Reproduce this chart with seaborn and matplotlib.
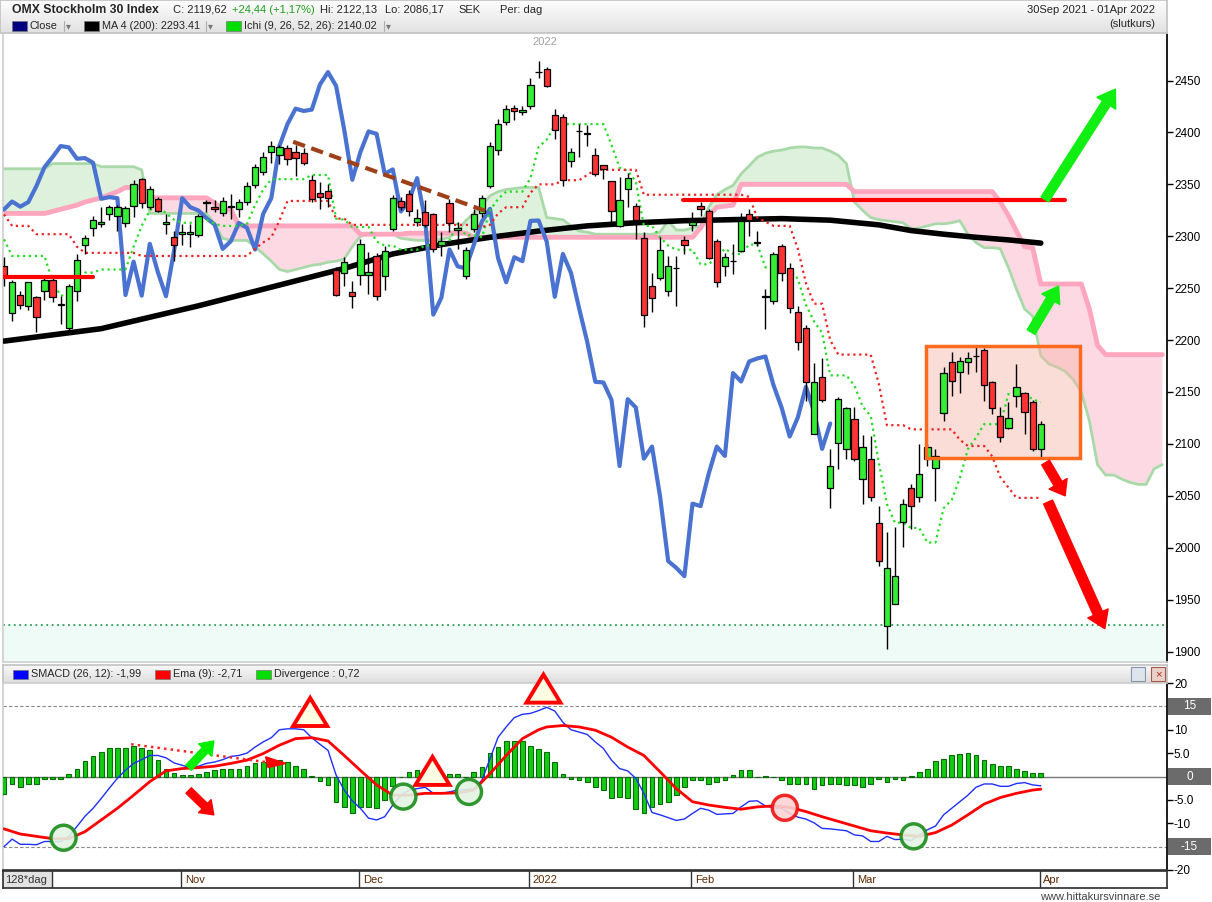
import numpy as np
import pandas as pd
import matplotlib
matplotlib.use("Agg")
import matplotlib.pyplot as plt
import seaborn as sns
from matplotlib.colors import LinearSegmentedColormap
from matplotlib.lines import Line2D
from matplotlib.patches import Rectangle, Ellipse, Polygon, FancyArrowPatch

# ---- OMXS30 daily candles, 30 Sep 2021 .. 01 Apr 2022 ----
opens = [2271.8, 2225.7, 2243.4, 2232.5, 2241.2, 2247.0, 2258.2, 2234.5, 2211.3, 2247.6,
         2291.7, 2307.8, 2311.6, 2321.6, 2320.0, 2312.9, 2329.0, 2354.7, 2328.0, 2336.1,
         2312.0, 2299.1, 2302.0, 2302.0, 2301.7, 2332.2, 2328.0, 2322.3, 2328.7, 2326.4,
         2332.9, 2349.6, 2361.8, 2381.1, 2377.9, 2385.0, 2381.1, 2380.1, 2353.8, 2341.9,
         2343.8, 2267.9, 2264.7, 2246.7, 2262.7, 2262.7, 2280.8, 2261.4, 2307.1, 2333.5,
         2340.9, 2313.6, 2323.2, 2321.3, 2291.7, 2332.2, 2305.8, 2261.4, 2307.1, 2322.6,
         2348.3, 2383.4, 2410.1, 2423.6, 2419.7, 2425.2, 2458.3, 2461.6, 2417.1, 2414.9,
         2372.4, 2401.1, 2398.9, 2377.9, 2368.3, 2352.8, 2309.7, 2345.1, 2329.6, 2298.1,
         2251.8, 2260.2, 2247.0, 2269.2, 2296.8, 2311.0, 2329.0, 2323.9, 2295.9, 2271.1,
         2276.2, 2286.2, 2321.6, 2293.3, 2241.9, 2237.9, 2291.0, 2269.2, 2226.7, 2211.3,
         2110.0, 2164.0, 2057.8, 2101.3, 2095.5, 2123.8, 2066.5, 2085.8, 2024.1, 1925.0,
         1946.2, 2024.7, 2057.8, 2048.8, 2085.2, 2077.1, 2129.6, 2178.5, 2168.8, 2178.5,
         2184.3, 2190.7, 2159.2, 2126.4, 2115.7, 2145.7, 2148.6, 2140.8, 2095.2]
highs = [2279.8, 2257.9, 2247.6, 2256.3, 2242.8, 2262.1, 2262.1, 2242.8, 2254.1, 2283.0,
         2301.3, 2320.0, 2328.0, 2330.3, 2330.0, 2329.6, 2353.8, 2356.0, 2348.3, 2337.7,
         2321.6, 2304.6, 2312.0, 2312.0, 2321.6, 2334.5, 2334.5, 2337.7, 2340.9, 2336.1,
         2352.2, 2369.9, 2381.1, 2391.4, 2388.2, 2388.2, 2387.6, 2385.0, 2358.6, 2352.2,
         2350.6, 2270.1, 2279.8, 2257.3, 2297.5, 2285.3, 2284.0, 2291.1, 2340.0, 2338.0,
         2344.1, 2326.4, 2334.5, 2322.6, 2303.9, 2336.1, 2313.6, 2289.4, 2326.4, 2339.3,
         2390.8, 2413.3, 2426.2, 2426.8, 2425.5, 2452.5, 2468.6, 2463.2, 2422.9, 2418.1,
         2385.0, 2408.5, 2407.5, 2385.0, 2368.9, 2353.0, 2357.0, 2361.2, 2332.2, 2303.9,
         2264.7, 2299.1, 2281.4, 2281.4, 2300.7, 2323.2, 2332.9, 2325.8, 2297.5, 2283.9,
         2292.7, 2322.6, 2326.4, 2305.5, 2249.2, 2284.6, 2292.7, 2274.3, 2233.2, 2214.5,
         2177.5, 2182.3, 2095.5, 2144.7, 2136.0, 2136.0, 2108.3, 2107.7, 2040.1, 2015.0,
         2020.2, 2046.6, 2061.1, 2099.6, 2099.6, 2095.5, 2173.6, 2188.8, 2183.3, 2188.8,
         2193.0, 2192.0, 2160.8, 2136.0, 2139.9, 2176.9, 2150.2, 2142.4, 2122.1]
lows = [2252.4, 2218.7, 2229.9, 2229.3, 2207.4, 2238.9, 2236.4, 2215.4, 2205.8, 2238.0,
        2283.0, 2300.7, 2308.7, 2315.2, 2305.5, 2308.7, 2318.4, 2327.1, 2326.4, 2323.2,
        2302.3, 2276.6, 2291.7, 2289.4, 2299.1, 2323.2, 2323.2, 2320.0, 2316.8, 2318.4,
        2329.7, 2346.4, 2359.3, 2370.8, 2369.9, 2368.3, 2358.0, 2368.9, 2332.9, 2326.4,
        2328.0, 2242.8, 2252.4, 2230.6, 2253.1, 2244.4, 2238.9, 2248.6, 2304.6, 2325.0,
        2320.0, 2309.7, 2308.7, 2284.6, 2281.4, 2303.9, 2287.8, 2258.9, 2303.9, 2318.4,
        2346.4, 2377.9, 2407.5, 2412.3, 2416.5, 2422.9, 2452.5, 2444.0, 2394.0, 2348.3,
        2366.6, 2376.3, 2386.9, 2357.9, 2354.7, 2313.6, 2308.7, 2328.0, 2297.5, 2212.2,
        2226.7, 2258.2, 2242.8, 2233.1, 2283.0, 2305.5, 2320.0, 2278.2, 2251.5, 2262.1,
        2263.7, 2285.3, 2300.7, 2291.0, 2210.6, 2234.8, 2257.3, 2226.1, 2190.7, 2141.5,
        2109.3, 2140.5, 2038.5, 2075.5, 2085.2, 2083.6, 2041.7, 2044.9, 1982.2, 1902.4,
        1946.0, 2000.9, 2018.3, 2044.0, 2078.8, 2044.9, 2122.2, 2145.7, 2149.5, 2167.2,
        2169.4, 2141.5, 2128.6, 2101.9, 2114.1, 2136.0, 2109.3, 2093.2, 2086.2]
closes = [2260.5, 2256.3, 2234.1, 2255.7, 2221.9, 2258.2, 2241.2, 2233.5, 2251.8, 2277.5,
          2298.1, 2316.1, 2313.6, 2328.0, 2328.0, 2327.1, 2349.9, 2332.2, 2345.1, 2324.8,
          2314.2, 2292.0, 2303.9, 2303.9, 2319.4, 2332.6, 2325.8, 2333.5, 2328.5, 2332.9,
          2348.3, 2366.6, 2376.3, 2386.9, 2385.6, 2374.7, 2375.3, 2370.8, 2336.1, 2337.7,
          2336.7, 2243.4, 2275.6, 2242.8, 2292.7, 2265.3, 2242.2, 2286.2, 2336.7, 2328.0,
          2324.8, 2317.4, 2311.3, 2287.8, 2295.2, 2312.9, 2308.1, 2287.2, 2321.6, 2336.7,
          2386.9, 2408.1, 2422.9, 2420.7, 2422.0, 2446.1, 2458.1, 2444.8, 2402.7, 2354.4,
          2381.1, 2401.0, 2398.6, 2360.2, 2364.4, 2323.9, 2334.5, 2356.0, 2315.2, 2224.5,
          2240.9, 2287.2, 2271.1, 2269.0, 2291.7, 2314.2, 2326.4, 2278.8, 2255.7, 2279.8,
          2276.0, 2314.8, 2315.2, 2294.9, 2241.7, 2283.0, 2264.7, 2230.6, 2198.4, 2159.8,
          2159.2, 2142.4, 2078.7, 2143.1, 2135.0, 2085.8, 2097.4, 2049.1, 1987.1, 1980.6,
          1972.6, 2042.4, 2040.1, 2071.3, 2097.4, 2088.4, 2168.2, 2160.1, 2179.4, 2182.3,
          2184.2, 2156.6, 2135.0, 2107.1, 2125.4, 2155.0, 2131.2, 2095.2, 2119.6]

month_labels = ["Nov", "Dec", "2022", "Feb", "Mar", "Apr"]
month_first = [22, 44, 65, 85, 105, 128]

# MA 4 (200)
ma_days = [0, 6, 12, 18, 24, 30, 36, 42, 48, 54, 60, 66, 72, 78, 84, 90, 96, 102, 108, 112, 116, 120, 124, 128]
ma_vals = [2199, 2205, 2211, 2222, 2233, 2245, 2257, 2269, 2283, 2292, 2299, 2305, 2310, 2313,
           2315, 2316, 2317, 2315.5, 2311, 2305.5, 2302, 2299, 2296.5, 2293.4]

# Ichimoku (9, 26, 52, 26)
tenkan = [2297, 2281, 2281, 2281, 2281, 2281, 2256, 2243, 2243, 2252,
          2265, 2265, 2268, 2268, 2268, 2268, 2290, 2310, 2325, 2330,
          2322, 2316, 2313, 2313, 2313, 2316, 2312, 2310, 2310, 2310,
          2312, 2330, 2345, 2355, 2355, 2355, 2355, 2355, 2359, 2359,
          2359, 2317, 2316, 2309, 2309, 2309, 2295, 2291, 2291, 2287,
          2287, 2287, 2291, 2291, 2291, 2296, 2312, 2301, 2301, 2299,
          2325, 2336, 2343, 2343, 2343, 2356, 2386, 2393, 2407, 2408,
          2408, 2408, 2408, 2408, 2408, 2388, 2366, 2363, 2353, 2310,
          2310, 2299, 2291, 2287, 2287, 2287, 2273, 2273, 2280, 2288,
          2283, 2283, 2292, 2292, 2270, 2270, 2270, 2268, 2259, 2234,
          2218, 2207, 2166, 2166, 2166, 2156, 2136, 2127, 2082, 2042,
          2024, 2024, 2019, 2019, 2005, 2005, 2038, 2046, 2067, 2095,
          2106, 2119, 2119, 2119, 2148, 2148, 2148, 2143, 2140]
kijun = [2321, 2310, 2310, 2310, 2302, 2302, 2302, 2302, 2302, 2290,
         2284, 2284, 2284, 2284, 2284, 2284, 2284, 2281, 2281, 2281,
         2281, 2281, 2281, 2281, 2281, 2281, 2281, 2281, 2281, 2281,
         2281, 2288, 2294, 2299, 2315, 2334, 2334, 2334, 2334, 2334,
         2334, 2317, 2317, 2311, 2311, 2311, 2311, 2311, 2311, 2311,
         2311, 2311, 2311, 2311, 2311, 2311, 2311, 2311, 2311, 2309,
         2311, 2322, 2328, 2328, 2328, 2342, 2350, 2350, 2350, 2354,
         2354, 2354, 2359, 2364, 2364, 2364, 2364, 2364, 2364, 2340,
         2340, 2340, 2340, 2340, 2340, 2340, 2340, 2340, 2340, 2340,
         2340, 2340, 2338, 2318, 2314, 2310, 2310, 2310, 2288, 2255,
         2235, 2235, 2200, 2186, 2186, 2186, 2186, 2186, 2158, 2118,
         2118, 2118, 2114, 2114, 2114, 2114, 2114, 2114, 2104, 2098,
         2098, 2098, 2088, 2068, 2058, 2048, 2048, 2048, 2048]
span_a = [2365, 2365, 2365, 2365, 2365, 2365, 2370, 2370, 2370, 2370,
          2370, 2370, 2367, 2367, 2367, 2367, 2367, 2364, 2322, 2322,
          2322, 2322, 2322, 2322, 2322, 2322, 2312, 2298, 2296, 2296,
          2296, 2290, 2283, 2276, 2268, 2266, 2268, 2270, 2272, 2273,
          2275, 2276, 2278, 2290, 2300, 2302, 2302, 2302, 2302, 2298,
          2297, 2296, 2296, 2296, 2297, 2299, 2305, 2315, 2322, 2330,
          2339, 2343, 2345, 2346, 2347, 2347, 2347, 2318, 2317, 2316,
          2310, 2305, 2304, 2302, 2302, 2302, 2302, 2302, 2302, 2302,
          2302, 2304, 2315, 2306, 2306, 2308, 2310, 2328, 2340, 2345,
          2349, 2360, 2368, 2376, 2380, 2382, 2383, 2385, 2386, 2386,
          2385, 2385, 2382, 2378, 2370, 2333, 2325, 2318, 2316, 2315,
          2314, 2313, 2307, 2308, 2310, 2312, 2312, 2313, 2315, 2302,
          2294, 2289, 2289, 2288, 2270, 2249, 2230, 2223, 2185, 2177,
          2174, 2170, 2162, 2150, 2122, 2080, 2070, 2070, 2066, 2063,
          2061, 2061, 2076, 2080]
span_b = [2322, 2322, 2322, 2322, 2322, 2322, 2324, 2326, 2328, 2330,
          2333, 2335, 2337, 2340, 2343, 2347, 2347, 2347, 2337, 2337,
          2337, 2337, 2337, 2337, 2337, 2337, 2332, 2326, 2326, 2310,
          2310, 2310, 2310, 2310, 2310, 2310, 2310, 2310, 2310, 2310,
          2310, 2310, 2310, 2310, 2302, 2302, 2302, 2302, 2302, 2302,
          2303, 2303, 2303, 2303, 2303, 2303, 2303, 2303, 2299, 2299,
          2299, 2299, 2299, 2299, 2299, 2299, 2299, 2299, 2299, 2299,
          2299, 2299, 2299, 2299, 2299, 2299, 2299, 2299, 2299, 2299,
          2299, 2299, 2299, 2299, 2299, 2299, 2308, 2320, 2328, 2329,
          2330, 2350, 2350, 2350, 2350, 2350, 2350, 2350, 2350, 2350,
          2350, 2350, 2350, 2350, 2350, 2343, 2343, 2343, 2343, 2343,
          2343, 2343, 2343, 2343, 2343, 2343, 2343, 2343, 2343, 2343,
          2343, 2343, 2343, 2333, 2320, 2305, 2290, 2289, 2254, 2254,
          2254, 2254, 2254, 2254, 2230, 2195, 2186, 2186, 2186, 2186,
          2186, 2186, 2186, 2186]

# SMACD (26, 12), Ema (9), Divergence
smacd = [-15.0, -13.4, -14.5, -14.5, -14.6, -13.9, -13.9, -13.9, -12.8, -10.7,
         -8.5, -6.8, -4.7, -2.5, -0.4, 1.35, 2.8, 3.6, 4.5, 4.5,
         4.0, 2.9, 2.4, 1.9, 2.2, 2.8, 3.1, 3.6, 4.3, 4.5,
         5.0, 6.3, 7.4, 8.3, 10.0, 10.2, 10.2, 10.0, 8.3, 6.9,
         5.6, 0.3, -2.9, -5.2, -6.8, -8.9, -9.3, -8.6, -6.1, -4.0,
         -2.9, -2.6, -2.3, -3.6, -3.6, -3.3, -2.9, -2.8, -2.6, -0.8,
         3.8, 8.4, 10.6, 12.6, 13.3, 13.5, 14.1, 14.8, 14.0, 11.6,
         10.0, 9.5, 9.0, 7.4, 6.0, 3.5, 1.7, 1.2, -0.4, -3.6,
         -7.7, -8.2, -8.8, -9.4, -9.1, -7.9, -6.8, -7.2, -8.1, -8.0,
         -7.9, -6.5, -5.3, -5.2, -6.3, -6.7, -6.8, -7.9, -8.7, -9.1,
         -9.9, -11.1, -11.2, -11.4, -11.6, -12.5, -12.7, -13.9, -13.9, -12.8,
         -13.5, -13.4, -13.7, -12.5, -11.4, -10.6, -8.2, -6.8, -5.4, -4.0,
         -2.3, -1.6, -1.6, -2.1, -2.1, -1.5, -1.3, -1.8, -1.99]
ema_days = [0, 2, 4, 6, 8, 10, 12, 14, 16, 18, 20, 22, 24, 26, 28, 30, 32, 34, 36, 38,
            40, 42, 44, 46, 48, 50, 52, 54, 56, 58, 60, 62, 64, 66, 67, 69, 71, 73, 75, 77,
            79, 81, 83, 85, 87, 89, 91, 93, 95, 97, 99, 101, 103, 105, 107, 109, 111, 113,
            115, 117, 119, 121, 123, 125, 127, 128]
ema_vals = [-11.2, -12.3, -12.8, -13.3, -13.3, -11.8, -9.3, -6.8, -4.0, -1.1, 1.2, 1.7, 1.9,
            2.2, 2.8, 3.5, 4.9, 6.7, 8.1, 8.3, 7.6, 4.5, 1.3, -1.8, -4.0, -4.0, -3.6, -3.6,
            -3.5, -2.9, 0.6, 4.5, 8.1, 10.0, 10.6, 10.9, 10.6, 9.9, 8.4, 6.3, 4.5, 1.0, -2.6,
            -5.4, -6.1, -6.6, -7.0, -6.5, -6.3, -6.6, -7.5, -8.6, -9.6, -10.6, -11.6, -12.1,
            -12.5, -12.8, -12.0, -10.4, -8.2, -5.9, -4.5, -3.6, -2.9, -2.71]
divergence = [-3.8, -1.6, -2.3, -1.6, -1.5, -0.6, -0.5, -0.5, 0.5, 1.7,
              3.3, 4.3, 5.2, 6.0, 6.2, 6.2, 6.6, 6.0, 5.7, 3.5,
              1.7, 0.8, 0.3, 0.35, 0.6, 1.0, 1.35, 1.5, 1.5, 1.5,
              2.2, 2.8, 3.1, 3.3, 3.5, 3.0, 2.3, 1.7, 0.05, -1.0,
              -1.8, -5.5, -6.5, -7.9, -6.5, -6.5, -6.8, -5.0, -2.1, -0.2,
              0.9, 1.35, 0.2, 0.1, 0.4, 0.6, 0.6, 0.0, 0.9, 2.1,
              5.0, 6.3, 7.5, 7.7, 7.5, 6.5, 5.8, 5.2, 3.1, 0.6,
              -0.6, -0.8, -1.1, -2.2, -2.8, -4.7, -4.3, -4.7, -7.0, -7.9,
              -6.6, -5.9, -5.4, -4.0, -2.3, -0.8, -0.8, -1.5, -1.1, -0.8,
              0.3, 1.35, 1.35, 0.0, 0.1, 0.0, -0.8, -1.6, -1.6, -1.6,
              -2.6, -1.8, -1.6, -1.5, -1.8, -1.8, -2.3, -1.6, -0.6, -1.1,
              -0.6, -0.8, 0.2, 1.0, 1.7, 3.3, 3.8, 4.5, 4.8, 5.0,
              4.5, 3.6, 2.6, 2.2, 2.2, 1.7, 1.1, 0.85, 0.72]

# ---------------------------------------------------------------------------
sns.set_theme(style="white")
plt.rcParams["font.family"] = ["Liberation Sans", "DejaVu Sans"]
FS = 8
LFS = 7.8   # legend rows

W, H = 1212, 902
fig = plt.figure(figsize=(W / 100, H / 100), dpi=100)
fig.patch.set_facecolor("white")


def px_axes(x0, y0, x1, y1):
    # axes from a pixel box, origin top-left
    return fig.add_axes([x0 / W, 1 - y1 / H, (x1 - x0) / W, (y1 - y0) / H])


def fx(x):
    return x / W


def fy(y):
    return 1 - y / H


def gradient_bar(box, top, bottom):
    a = px_axes(*box)
    cmap = LinearSegmentedColormap.from_list("bar", [top, bottom])
    a.imshow(np.arange(20).reshape(-1, 1), cmap=cmap, aspect="auto", extent=[0, 1, 0, 1])
    a.set_xticks([])
    a.set_yticks([])
    for s in a.spines.values():
        s.set_color("#c4c4c4")
    return a


def legend_item(x, y, color, label, drop_x=None):
    fig.add_artist(Rectangle((fx(x), fy(y + 4.5)), 15 / W, 9 / H, transform=fig.transFigure,
                             facecolor=color, edgecolor="#777777", lw=0.5))
    fig.text(fx(x + 18), fy(y), label, fontsize=LFS, va="center")
    if drop_x is not None:
        fig.add_artist(Line2D([fx(drop_x), fx(drop_x)], [fy(y - 5), fy(y + 5)],
                              transform=fig.transFigure, color="#b0b0b0", lw=0.8))
        fig.text(fx(drop_x + 2), fy(y), "▾", fontsize=7, va="center", color="#777777")


x_lo, x_hi = -1 / 8.1, 1163 / 8.1
days = np.arange(len(closes))

# ---------------- main price panel ----------------
ax = px_axes(3, 33, 1167, 662)
y_lo, y_hi = 1889.9, 2495.8

sa = np.array(span_a, dtype=float)
sb = np.array(span_b, dtype=float)
cx = np.arange(len(sa))
ax.fill_between(cx, sa, sb, where=sa >= sb, interpolate=True, color="#ddf1dd", lw=0, zorder=1)
ax.fill_between(cx, sa, sb, where=sa < sb, interpolate=True, color="#fdd9e4", lw=0, zorder=1)
sns.lineplot(x=cx, y=sa, ax=ax, color="#a9d9a9", linewidth=2, errorbar=None, zorder=2)
sns.lineplot(x=cx, y=sb, ax=ax, color="#ffa6bf", linewidth=3.5, errorbar=None, zorder=2)

ax.axhspan(y_lo, 1925.5, color="#effbf6", zorder=0)
ax.axhline(1925.5, color="#2f9e55", lw=1.3, ls=(0, (1, 2)), zorder=2)

sns.lineplot(x=ma_days, y=ma_vals, ax=ax, color="black", linewidth=4, errorbar=None, zorder=3)
sns.lineplot(x=days[:-26], y=np.array(closes)[26:], ax=ax, color="#4a72d0",
             linewidth=3, errorbar=None, zorder=4)
sns.lineplot(x=days, y=tenkan, ax=ax, color="#22dd22", linewidth=1.6, linestyle=":",
             errorbar=None, zorder=4)
sns.lineplot(x=days, y=kijun, ax=ax, color="#ee2222", linewidth=1.6, linestyle=":",
             errorbar=None, zorder=4)

# analyst marks
ax.add_patch(Rectangle((113.8, 2086), 19, 108, facecolor="#f8b4a8", alpha=0.45,
                       edgecolor="none", zorder=3))
ax.add_patch(Rectangle((113.8, 2086), 19, 108, facecolor="none", edgecolor="#ff6a1f",
                       lw=2.5, zorder=9))
ax.plot([-0.2, 11], [2261, 2261], color="#ff0000", lw=3, zorder=8)
ax.plot([83.8, 131], [2335, 2335], color="#ff0000", lw=3, zorder=8)
ax.plot([35.7, 59.4], [2391, 2324.5], color="#a0401a", lw=3, ls=(0, (3, 1.6)), zorder=8)


def arrow(a, p0, p1, color, tw, hw, hl):
    a.add_patch(FancyArrowPatch(p0, p1, arrowstyle=f"simple,head_length={hl},head_width={hw},tail_width={tw}",
                                mutation_scale=1, color=color, shrinkA=0, shrinkB=0, zorder=10, clip_on=False))


arrow(ax, (128.5, 2335.5), (137.2, 2441.7), "#11ee11", 6.5, 16, 12)
arrow(ax, (126.8, 2207.7), (130.2, 2252), "#11ee11", 6.5, 15, 11)
arrow(ax, (128.6, 2082), (131.0, 2050), "#ff0000", 6.5, 15, 10)
arrow(ax, (128.9, 2044), (135.9, 1922), "#ff0000", 7, 16, 12)

# candles
df = pd.DataFrame({"open": opens, "high": highs, "low": lows, "close": closes})
df["day"] = days
up = df["close"] >= df["open"]
body_lo = df[["open", "close"]].min(axis=1)
body_h = (df["close"] - df["open"]).abs().clip(lower=0.6)
ax.vlines(df["day"], df["low"], df["high"], color="black", lw=1, zorder=6)
ax.bar(df["day"], body_h, bottom=body_lo, width=0.78,
       color=np.where(up, "#33ee33", "#ff3333"), edgecolor="black", linewidth=0.9, zorder=7)

ax.text(66.8, 2487, "2022", ha="center", va="center", fontsize=FS, color="#a0a0a0")

ax.set_xlim(x_lo, x_hi)
ax.set_ylim(y_lo, y_hi)
ax.set_xlabel("")
ax.set_ylabel("")
ax.set_xticks([])
ax.set_yticks(list(range(1900, 2451, 50)))
ax.yaxis.tick_right()
ax.tick_params(axis="y", right=True, left=False, labelright=True, labelleft=False,
               direction="out", length=4, width=1, pad=1, labelsize=8.5, colors="black")
for s in ["left", "bottom", "top"]:
    ax.spines[s].set_color("#cfcfcf")
ax.spines["top"].set_visible(False)
ax.spines["right"].set_color("black")

# ---------------- header ----------------
gradient_bar((0, 0, 1167, 33), "#fdfdfd", "#e2e2e2")
fig.text(fx(12), fy(10), "OMX Stockholm 30 Index", fontsize=8.8, fontweight="bold", va="center")
fig.text(fx(173), fy(10), "C: 2119,62", fontsize=FS, va="center")
fig.text(fx(232), fy(10), "+24,44 (+1,17%)", fontsize=FS, va="center", color="#1f9e1f")
fig.text(fx(320), fy(10), "Hi: 2122,13", fontsize=FS, va="center")
fig.text(fx(385), fy(10), "Lo: 2086,17", fontsize=FS, va="center")
fig.text(fx(458), fy(10), "SEK", fontsize=FS, va="center")
fig.text(fx(500), fy(10), "Per: dag", fontsize=FS, va="center")
fig.text(fx(1155), fy(10), "30Sep 2021 - 01Apr 2022", fontsize=FS, va="center", ha="right")
fig.text(fx(1155), fy(24), "(slutkurs)", fontsize=FS, va="center", ha="right")
legend_item(12, 26, "#000080", "Close", 64)
legend_item(84, 26, "#000000", "MA 4 (200): 2293.41", 206)
legend_item(226, 26, "#00dd00", "Ichi (9, 26, 52, 26): 2140.02", 384)

# ---------------- SMACD panel ----------------
gradient_bar((3, 665, 1167, 683), "#f8f8f8", "#dedede")
legend_item(13, 674, "#0000ff", "SMACD (26, 12): -1,99")
legend_item(155, 674, "#ff0000", "Ema (9): -2,71")
legend_item(256, 674, "#00dd00", "Divergence : 0,72")
fig.add_artist(Rectangle((fx(1131), fy(681)), 14 / W, 14 / H, transform=fig.transFigure,
                         facecolor="#dde4ec", edgecolor="#8a97a8", lw=0.8))
fig.add_artist(Rectangle((fx(1151), fy(681)), 14 / W, 14 / H, transform=fig.transFigure,
                         facecolor="#ead0c8", edgecolor="#a85a48", lw=0.8))
fig.text(fx(1158), fy(674), "×", fontsize=8, ha="center", va="center", color="#a03020")

m = px_axes(3, 683, 1167, 870)
m.bar(days, divergence, width=0.58, color="#11cc11", edgecolor="#0a6a0a", linewidth=0.8, zorder=3)
m.axhline(0, color="#777777", lw=1, zorder=2)
for lvl in (15, -15):
    m.axhline(lvl, color="#888888", lw=0.8, ls=(0, (3, 2)), zorder=2)
sns.lineplot(x=days, y=smacd, ax=m, color="#1f2fff", linewidth=1, errorbar=None, zorder=4)
sns.lineplot(x=ema_days, y=ema_vals, ax=m, color="#ff0000", linewidth=2, errorbar=None, zorder=5)

for (cxx, cyy), edge, face in [((7.35, -13.1), "#1a8c1a", "#e3f3e3"), ((49.3, -4.3), "#1a8c1a", "#e3f3e3"),
                               ((57.4, -3.3), "#1a8c1a", "#e3f3e3"), ((112.3, -12.8), "#1a8c1a", "#e3f3e3"),
                               ((96.4, -6.7), "#ee1111", "#fbd3d3")]:
    m.add_patch(Ellipse((cxx, cyy), 3.1, 5.35, facecolor=face, edgecolor=edge, lw=2.5, alpha=0.9, zorder=6))
for tx, ty in [(37.8, 13.8), (52.9, 1.2), (66.6, 18.8)]:
    m.add_patch(Polygon([(tx - 2.1, ty - 3.0), (tx + 2.1, ty - 3.0), (tx, ty + 3.0)],
                        facecolor="#fffde2", edgecolor="#ff0000", lw=2.8, zorder=7, clip_on=False))
m.plot([15.7, 32.3], [6.9, 3.1], color="#ff2222", lw=1.8, ls=":", zorder=6)
m.add_patch(Polygon([(32.3, 4.2), (32.6, 1.9), (34.8, 2.8)], color="#ff0000", zorder=6))
arrow(m, (22.8, 1.9), (25.9, 7.6), "#00ee00", 5.5, 13, 9)
arrow(m, (22.8, -3.0), (25.9, -8.2), "#ff0000", 5.5, 13, 9)

m.set_xlim(x_lo, x_hi)
m.set_ylim(-20, 20)
m.set_xlabel("")
m.set_ylabel("")
m.set_xticks([])
m.set_yticks([20, 10, 5, -5, -10, -20])
m.set_yticklabels(["20", "10", "5.0", "-5.0", "-10", "-20"])
m.yaxis.tick_right()
m.tick_params(axis="y", right=True, left=False, labelright=True, labelleft=False,
              direction="out", length=4, width=1, pad=1, labelsize=8.5, colors="black")
for s in ["left", "top"]:
    m.spines[s].set_color("#cfcfcf")
m.spines["bottom"].set_color("#333333")
m.spines["right"].set_color("black")
ytr = m.get_yaxis_transform()
for lvl, lab in [(15, "15"), (0, "0"), (-15, "-15")]:
    m.add_patch(Rectangle((1.0008, lvl - 1.75), 43 / 1164, 3.5, transform=ytr,
                          facecolor="#6b6b6b", edgecolor="none", clip_on=False, zorder=8))
    m.text(1.0008 + 21.5 / 1164, lvl, lab, transform=ytr, ha="center", va="center",
           fontsize=8.5, color="white", zorder=9, clip_on=False)

# ---------------- date strip ----------------
strip = px_axes(3, 871, 1167, 888)
strip.set_xlim(x_lo, x_hi)
strip.set_ylim(0, 1)
strip.set_xticks([])
strip.set_yticks([])
for s in strip.spines.values():
    s.set_color("#333333")
strip.axvspan(x_lo, 5.9, color="#e2e2e2")
strip.axvline(5.9, color="#333333", lw=1)
strip.text(0.15, 0.45, "128*dag", fontsize=FS, va="center", color="#333333")
for lab, d in zip(month_labels, month_first):
    strip.axvline(d - 0.15, color="#333333", lw=1)
    strip.text(d + 0.3, 0.45, lab, fontsize=FS, va="center", color="#5c2800")

fig.text(fx(1160), fy(897), "www.hittakursvinnare.se", fontsize=FS, ha="right", va="center",
         color="#444444")

fig.savefig("out.png", dpi=100)
